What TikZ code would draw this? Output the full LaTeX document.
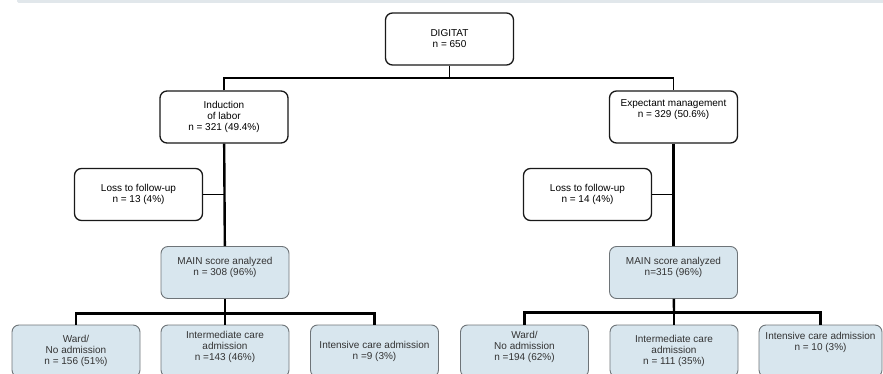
\documentclass[tikz,border=0pt]{standalone}
\usepackage{fontspec}
\setmainfont{Liberation Sans}
\usepackage{xcolor}
\usepackage{tikz}
\definecolor{boxblue}{HTML}{D8E6EE}
\definecolor{boxgray}{HTML}{6E7478}
\definecolor{bandgray}{HTML}{E1E7EB}
\newcommand{\gap}[1]{\\[#1]\mbox{}}

\begin{document}
\begin{tikzpicture}[
  x=1pt, y=-1pt,
  font=\fontsize{10}{11}\selectfont,
  box/.style={draw=black!90, line width=1.3pt, rounded corners=7pt, align=center, minimum width=128pt, minimum height=52pt, inner sep=2pt, fill=white},
  bluebox/.style={box, draw=boxgray, line width=0.9pt, fill=boxblue, text=black!80},
  conn/.style={line width=1.5pt},
  thickconn/.style={line width=2.4pt}
]
\useasboundingbox (0,0) rectangle (883,374);
\fill[bandgray, rounded corners=1.5pt] (17,-3) rectangle (886,3);

% top
\node[box] (digitat) at (449.5,39) {DIGITAT\\n = 650};
\node[box] (induct) at (224,117) {Induction\\of labor\\n = 321 (49.4\%)};
\node[box] (expect) at (673.5,117) {Expectant management\\n = 329 (50.6\%)\gap{5pt}};

\coordinate (split) at (449.5,78);
\draw[conn] (digitat) -- (split);
\draw[conn] (induct.north) |- (split) -| (expect.north);

% loss to follow-up
\node[box] (lossL) at (138.5,194.5) {Loss to follow-up\\n = 13 (4\%)};
\node[box] (lossR) at (587.5,194.5) {Loss to follow-up\\n = 14 (4\%)};

% analyzed
\node[bluebox] (mainL) at (225,272.5) {MAIN score analyzed\\n = 308 (96\%)\gap{2pt}};
\node[bluebox] (mainR) at (673.5,272.5) {MAIN score analyzed\\n=315 (96\%)\gap{2pt}};

\draw[thickconn] (induct) -- (mainL);
\draw[thickconn] (expect) -- (mainR);
\draw[conn] (lossL.east) -- (lossL.east -| induct.south);
\draw[conn] (lossR.east) -- (lossR.east -| expect.south);

% outcomes
\node[bluebox] (wardL) at (76,351) {Ward/\\No admission\\n = 156 (51\%)};
\node[bluebox] (imcL) at (225,351) {Intermediate care\\admission\\n =143 (46\%)\gap{0pt}};
\node[bluebox] (icuL) at (374.5,351) {Intensive care admission\\n =9 (3\%)};
\node[bluebox] (wardR) at (524.5,351) {Ward/\\No admission\\n =194 (62\%)\gap{0pt}};
\node[bluebox] (imcR) at (674,351) {Intermediate care\\admission\\n = 111 (35\%)};
\node[bluebox, minimum width=123pt] (icuR) at (820.5,351) {Intensive care admission\\n = 10 (3\%)\gap{8pt}};

\coordinate (splitL) at (225,313.5);
\coordinate (splitR) at (674,312.5);
\draw[thickconn] (mainL) -- (splitL);
\draw[thickconn] (wardL.north) |- (splitL) -| (icuL.north);
\draw[thickconn] (splitL) -- (imcL);
\draw[thickconn] (mainR) -- (splitR);
\draw[thickconn] (wardR.north) |- (splitR) -| (icuR.north);
\draw[thickconn] (splitR) -- (imcR);

\end{tikzpicture}
\end{document}
